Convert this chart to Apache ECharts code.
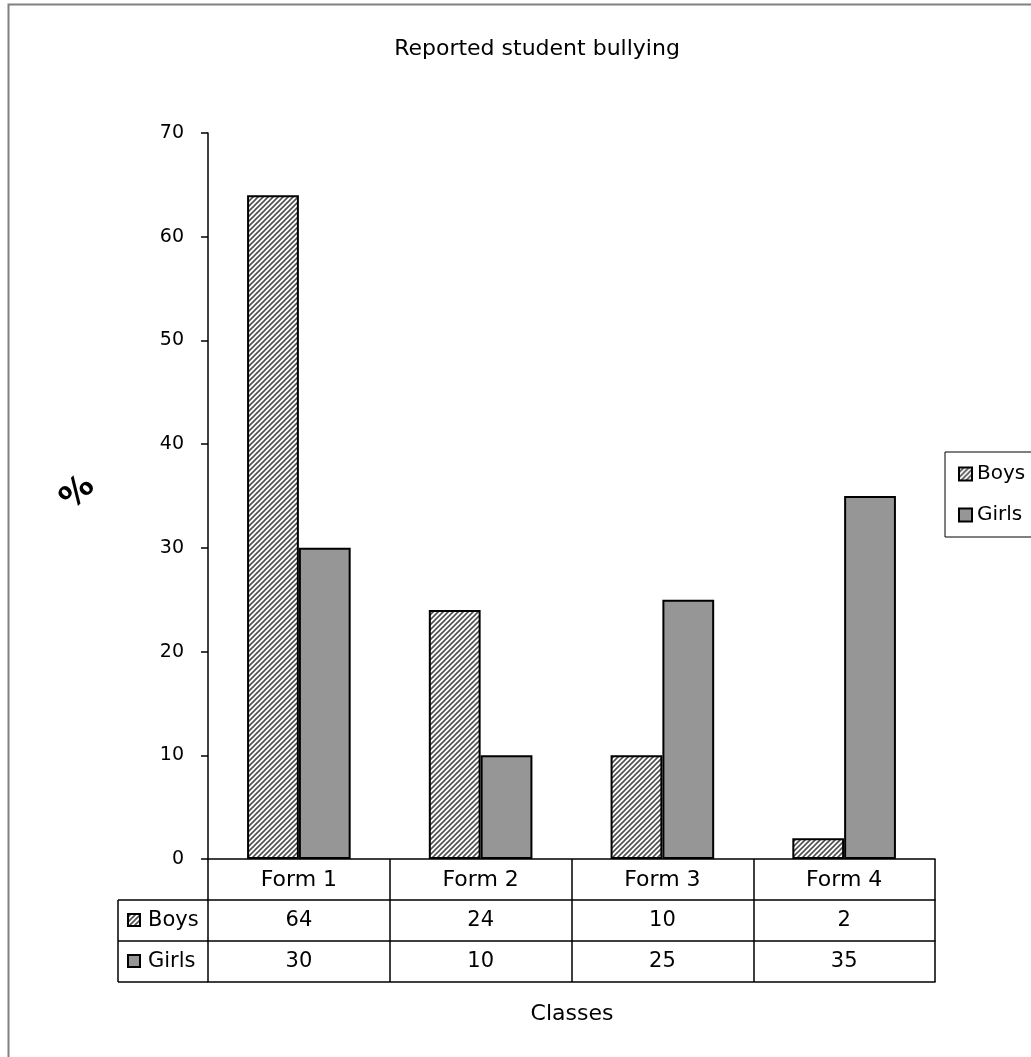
<!DOCTYPE html>
<html>
<head>
<meta charset="utf-8">
<script src="https://cdn.jsdelivr.net/npm/echarts@6/dist/echarts.min.js"></script>
<style>
html,body{margin:0;padding:0;background:#fff;}
#main{width:1031px;height:1057px;}
</style>
</head>
<body>
<div id="main"></div>
<script>
// ---- data ----
var categories = ['Form 1', 'Form 2', 'Form 3', 'Form 4'];
var boys = [64, 24, 10, 2];
var girls = [30, 10, 25, 35];
var seriesNames = ['Boys', 'Girls'];
var yTicks = { min: 0, max: 70, interval: 10 };
var titleText = 'Reported student bullying';
var yName = '%';
var xName = 'Classes';

var FONT = 'DejaVu Sans';

// hatch pattern
function makeHatch() {
  var c = document.createElement('canvas');
  var s = 5;
  c.width = s; c.height = s;
  var g = c.getContext('2d');
  g.fillStyle = '#ffffff';
  g.fillRect(0, 0, s, s);
  g.strokeStyle = '#505050';
  g.lineWidth = 1.6;
  g.beginPath();
  g.moveTo(-1, s + 1); g.lineTo(s + 1, -1);
  g.moveTo(-1, 1); g.lineTo(1, -1);
  g.moveTo(s - 1, s + 1); g.lineTo(s + 1, s - 1);
  g.stroke();
  return c;
}
var hatch = { image: makeHatch(), repeat: 'repeat' };
var girlsColor = '#969696';

var chart = echarts.init(document.getElementById('main'), null, { renderer: 'canvas' });

var gridLeft = 208, gridRight = 96, gridTop = 133, gridBottom = 198;
var rowH = 41;
var axisY = 1057 - gridBottom;
var leftColX = 118;

function tableAxis(offset, values, showLabel, showTick, fs) {
  return {
    type: 'category',
    data: categories,
    gridIndex: 0,
    position: 'bottom',
    offset: offset,
    axisLine: { show: true, lineStyle: { color: '#000', width: 1.5 } },
    axisTick: { show: showTick, length: rowH, lineStyle: { color: '#000', width: 1.5 } },
    axisLabel: {
      show: showLabel,
      margin: 10,
      color: '#000',
      fontFamily: FONT,
      fontSize: fs || 21,
      formatter: function (v, i) { return values ? String(values[i]) : v; }
    },
    splitLine: { show: false }
  };
}

var graphics = [
  { type: 'rect', z: -1, shape: { x: 8.5, y: 4.5, width: 1200, height: 1200 },
    style: { fill: null, stroke: '#808080', lineWidth: 2 } },
  { type: 'text', x: 537, y: 49, style: { text: titleText, textAlign: 'center', textVerticalAlign: 'middle',
    font: '22px "' + FONT + '"', fill: '#000' } },
  { type: 'text', x: 78, y: 493, rotation: Math.PI * 45 / 180, style: { text: yName, textAlign: 'center', textVerticalAlign: 'middle',
    font: 'bold 33px "' + FONT + '"', fill: '#000' } },
  { type: 'text', x: 572, y: 1014, style: { text: xName, textAlign: 'center', textVerticalAlign: 'middle',
    font: '22px "' + FONT + '"', fill: '#000' } }
];
// left column of data table
[1, 2, 3].forEach(function (k) {
  graphics.push({ type: 'line', shape: { x1: leftColX, y1: axisY + rowH * k, x2: gridLeft, y2: axisY + rowH * k },
    style: { stroke: '#000', lineWidth: 1.5 } });
});
graphics.push({ type: 'line', shape: { x1: leftColX, y1: axisY + rowH, x2: leftColX, y2: axisY + rowH * 3 },
  style: { stroke: '#000', lineWidth: 1.5 } });
[hatch, girlsColor].forEach(function (fill, k) {
  var cy = axisY + rowH * (k + 1) + rowH / 2;
  graphics.push({ type: 'rect', shape: { x: 128, y: cy - 6.5, width: 12, height: 12 },
    style: { fill: fill, stroke: '#000', lineWidth: 2 } });
  graphics.push({ type: 'text', x: 148, y: cy, style: { text: seriesNames[k], textAlign: 'left', textVerticalAlign: 'middle',
    font: '21px "' + FONT + '"', fill: '#000' } });
});

var option = {
  backgroundColor: '#fff',
  animation: false,
  textStyle: { fontFamily: FONT },
  grid: { left: gridLeft, right: gridRight, top: gridTop, bottom: gridBottom, containLabel: false },
  legend: {
    orient: 'vertical',
    left: 945, top: 452,
    padding: [12, 30, 12, 13],
    itemGap: 21,
    itemWidth: 13, itemHeight: 13,
    icon: 'rect',
    borderColor: '#000', borderWidth: 1,
    textStyle: { fontSize: 20, color: '#000', fontFamily: FONT, lineHeight: 20 },
    data: seriesNames
  },
  xAxis: [
    tableAxis(0, null, true, true, 22),
    tableAxis(rowH, boys, true, true, 21),
    tableAxis(rowH * 2, girls, true, true, 21),
    tableAxis(rowH * 3, null, false, false)
  ],
  yAxis: {
    type: 'value',
    min: yTicks.min, max: yTicks.max, interval: yTicks.interval,
    axisLine: { show: true, lineStyle: { color: '#000', width: 1.5 } },
    axisTick: { show: true, length: 7, lineStyle: { color: '#000', width: 1.5 } },
    axisLabel: { color: '#000', fontSize: 19, fontFamily: FONT, margin: 24 },
    splitLine: { show: false }
  },
  series: [
    { name: seriesNames[0], type: 'bar', xAxisIndex: 0, data: boys,
      barGap: '0%', barCategoryGap: '43%',
      itemStyle: { color: hatch, borderColor: '#000', borderWidth: 2 } },
    { name: seriesNames[1], type: 'bar', xAxisIndex: 0, data: girls,
      barGap: '0%', barCategoryGap: '43%',
      itemStyle: { color: girlsColor, borderColor: '#000', borderWidth: 2 } }
  ],
  graphic: graphics
};
chart.setOption(option);
</script>
</body>
</html>
